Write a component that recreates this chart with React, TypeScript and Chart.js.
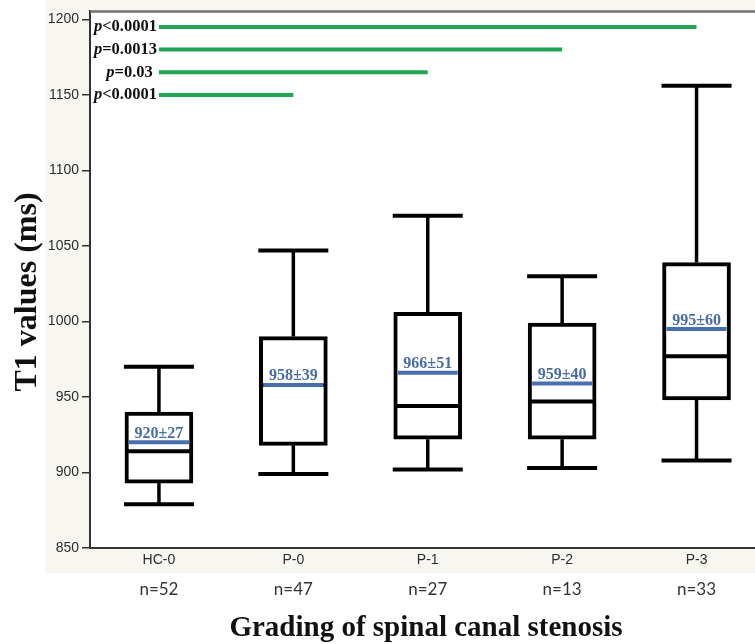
import React, { useEffect, useRef } from "react";
import { Chart, registerables } from "chart.js";

Chart.register(...registerables);

// ---- data ----
const categories = ["HC-0", "P-0", "P-1", "P-2", "P-3"];
const sampleSizes = ["n=52", "n=47", "n=27", "n=13", "n=33"];
const whiskerMax = [970, 1047, 1070, 1030, 1156];
const q3 = [940, 990, 1006, 999, 1039];
const medians = [914, 958, 944, 947, 977];
const q1 = [893, 918, 922, 922, 948];
const whiskerMin = [879, 899, 902, 903, 908];
const means = [920, 958, 966, 959, 995];
const sds = [27, 39, 51, 40, 60];
const yTicks = [850, 900, 950, 1000, 1050, 1100, 1150, 1200];

const pSymbol = ["p", "p", "p", "p"];
const pRelation = ["<0.0001", "=0.0013", "=0.03 ", "<0.0001"];
const pFrom = [0, 0, 0, 0];
const pTo = [4, 3, 2, 1];
const pLevel = [1195, 1180, 1165, 1150];

const yTitle = "T1 values (ms)";
const xTitle = "Grading of spinal canal stenosis";

const W = 755;
const H = 644;
const SERIF = '"Liberation Serif", "Times New Roman", serif';
const SANS = '"Liberation Sans", Arial, sans-serif';

export default function App() {
  const ref = useRef<HTMLCanvasElement>(null);

  useEffect(() => {
    const canvas = ref.current;
    if (!canvas) return;

    const bgPlugin = {
      id: "bgPlugin",
      beforeDraw(chart: any) {
        const { ctx, chartArea } = chart;
        ctx.save();
        ctx.fillStyle = "#ffffff";
        ctx.fillRect(0, 0, W, H);
        ctx.fillStyle = "#f7f6f1";
        ctx.fillRect(45, 0, W - 45, 573);
        ctx.fillStyle = "#ffffff";
        ctx.fillRect(
          chartArea.left,
          chartArea.top,
          chartArea.right - chartArea.left,
          chartArea.bottom - chartArea.top
        );
        ctx.restore();
      },
    };

    const boxPlugin = {
      id: "boxPlugin",
      afterDatasetsDraw(chart: any) {
        const { ctx } = chart;
        const xs = chart.scales.x;
        const ys = chart.scales.y;
        ctx.save();
        for (let i = 0; i < categories.length; i++) {
          const x = xs.getPixelForValue(i);
          const half = 34;
          const capHalf = 35;
          ctx.strokeStyle = "#000";
          ctx.lineCap = "butt";
          // whiskers
          ctx.lineWidth = 3.5;
          ctx.beginPath();
          ctx.moveTo(x, ys.getPixelForValue(q3[i]));
          ctx.lineTo(x, ys.getPixelForValue(whiskerMax[i]));
          ctx.moveTo(x, ys.getPixelForValue(q1[i]));
          ctx.lineTo(x, ys.getPixelForValue(whiskerMin[i]));
          ctx.stroke();
          // caps
          ctx.lineWidth = 4;
          ctx.beginPath();
          const yMax = ys.getPixelForValue(whiskerMax[i]);
          const yMin = ys.getPixelForValue(whiskerMin[i]);
          ctx.moveTo(x - capHalf, yMax);
          ctx.lineTo(x + capHalf, yMax);
          ctx.moveTo(x - capHalf, yMin);
          ctx.lineTo(x + capHalf, yMin);
          ctx.stroke();
          // median
          const yMed = ys.getPixelForValue(medians[i]);
          ctx.beginPath();
          ctx.moveTo(x - half + 2, yMed);
          ctx.lineTo(x + half - 2, yMed);
          ctx.stroke();
          // mean
          const yMean = ys.getPixelForValue(means[i]);
          ctx.strokeStyle = "#4a6fae";
          ctx.beginPath();
          ctx.moveTo(x - half + 4, yMean);
          ctx.lineTo(x + half - 4, yMean);
          ctx.stroke();
          ctx.fillStyle = "#4a6ca6";
          ctx.font = `bold 16px ${SERIF}`;
          ctx.textAlign = "center";
          ctx.textBaseline = "alphabetic";
          ctx.fillText(`${means[i]}±${sds[i]}`, x, yMean - 4.5);
        }

        // significance bars
        for (let k = 0; k < pLevel.length; k++) {
          const y = ys.getPixelForValue(pLevel[k]);
          const x0 = xs.getPixelForValue(pFrom[k]);
          const x1 = xs.getPixelForValue(pTo[k]);
          ctx.strokeStyle = "#22a552";
          ctx.lineWidth = 4;
          ctx.beginPath();
          ctx.moveTo(x0, y);
          ctx.lineTo(x1, y);
          ctx.stroke();

          ctx.fillStyle = "#111";
          ctx.textBaseline = "middle";
          ctx.textAlign = "left";
          ctx.font = `bold 16.5px ${SERIF}`;
          const relW = ctx.measureText(pRelation[k]).width;
          ctx.font = `italic bold 16.5px ${SERIF}`;
          const pW = ctx.measureText(pSymbol[k]).width;
          const right = x0 - 2;
          ctx.fillText(pSymbol[k], right - relW - pW, y);
          ctx.font = `bold 16.5px ${SERIF}`;
          ctx.fillText(pRelation[k], right - relW, y);
        }
        ctx.restore();
      },
      afterDraw(chart: any) {
        const { ctx, chartArea } = chart;
        const xs = chart.scales.x;
        ctx.save();
        // top frame line
        ctx.strokeStyle = "#707070";
        ctx.lineWidth = 2.5;
        ctx.beginPath();
        ctx.moveTo(chartArea.left, chartArea.top);
        ctx.lineTo(chartArea.right, chartArea.top);
        ctx.stroke();

        // sample sizes
        ctx.fillStyle = "#333";
        ctx.font = `17px Lato, ${SANS}`;
        ctx.textAlign = "center";
        ctx.textBaseline = "middle";
        for (let i = 0; i < sampleSizes.length; i++) {
          ctx.fillText(sampleSizes[i], xs.getPixelForValue(i), 590);
        }

        // x title
        ctx.fillStyle = "#111";
        ctx.font = `bold 29px ${SERIF}`;
        ctx.textAlign = "center";
        ctx.textBaseline = "alphabetic";
        ctx.fillText(xTitle, 426, 636);

        // y title
        ctx.translate(28, 292);
        ctx.rotate(-Math.PI / 2);
        ctx.font = `bold 32px ${SERIF}`;
        ctx.textBaseline = "middle";
        ctx.fillText(yTitle, 0, 0);
        ctx.restore();
      },
    };

    const chart = new Chart(canvas, {
      type: "bar",
      data: {
        datasets: [
          {
            label: "IQR",
            data: categories.map((_, i) => ({ x: i, y: [q1[i], q3[i]] })) as any,
            backgroundColor: "#ffffff",
            borderColor: "#000000",
            borderWidth: 4,
            borderSkipped: false,
            barThickness: 68,
          },
        ],
      },
      options: {
        responsive: false,
        maintainAspectRatio: false,
        animation: false,
        layout: { padding: { top: 11, left: 0, right: 0, bottom: 0 } },
        plugins: {
          legend: { display: false },
          tooltip: { enabled: false },
        },
        scales: {
          x: {
            type: "linear",
            min: -0.513,
            max: 4.435,
            bounds: "data",
            offset: false,
            afterBuildTicks: (axis: any) => {
              axis.ticks = categories.map((_, i) => ({ value: i }));
            },
            afterFit: (axis: any) => {
              axis.height = 96;
            },
            grid: { display: false, drawTicks: false },
            border: { display: true, color: "#333", width: 2 },
            ticks: {
              autoSkip: false,
              maxRotation: 0,
              padding: 4,
              color: "#2e2e2e",
              font: { family: SANS, size: 14 },
              callback: (v: any) => categories[v as number] ?? "",
            },
          },
          y: {
            type: "linear",
            min: 850,
            max: 1205.3,
            bounds: "data",
            beginAtZero: false,
            afterBuildTicks: (axis: any) => {
              axis.ticks = yTicks.map((v) => ({ value: v }));
            },
            afterFit: (axis: any) => {
              axis.width = 90;
            },
            grid: {
              drawOnChartArea: false,
              drawTicks: true,
              tickLength: 8,
              color: "#333",
              lineWidth: 1.5,
            },
            border: { display: true, color: "#333", width: 2 },
            ticks: {
              padding: 3,
              color: "#2e2e2e",
              font: { family: SANS, size: 14 },
              callback: (v: any) => String(v),
            },
          },
        },
      },
      plugins: [bgPlugin, boxPlugin],
    } as any);

    return () => chart.destroy();
  }, []);

  return (
    <div style={{ position: "absolute", left: 0, top: 0, width: W, height: H }}>
      <canvas ref={ref} width={W} height={H} style={{ display: "block" }} />
    </div>
  );
}
